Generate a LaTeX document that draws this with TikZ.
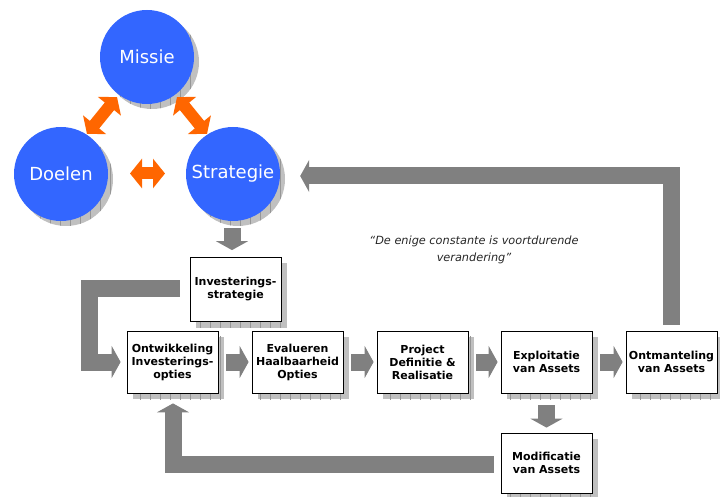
\documentclass[tikz,border=0pt]{standalone}
\usepackage{fontspec}
\setmainfont{DejaVu Sans}
\usetikzlibrary{arrows.meta,calc,backgrounds}
\definecolor{circblue}{RGB}{51,102,255}
\definecolor{arrorange}{RGB}{255,102,0}
\definecolor{shadowgray}{RGB}{192,192,192}
\definecolor{gridgray}{RGB}{150,150,150}
\definecolor{blockgray}{RGB}{128,128,128}
\newcommand\myboxshadow[1]{%
  \fill[shadowgray] ($(#1.north west)+(6,6)$) rectangle ($(#1.south east)+(6,6)$);
  \begin{scope}
    \clip ($(#1.north west)+(6,6)$) rectangle ($(#1.south east)+(6,6)$);
    \draw[gridgray,line width=0.5pt,step=10] (0,0) grid (720,497);
  \end{scope}}
\newcommand\mycircshadow[1]{%
  \fill[shadowgray] ($(#1.center)+(5,5)$) circle[radius=47pt];
  \begin{scope}
    \clip ($(#1.center)+(5,5)$) circle[radius=47pt];
    \draw[gridgray,line width=0.5pt,step=10] (0,0) grid (720,497);
  \end{scope}}
\begin{document}
\begin{tikzpicture}[x=1pt,y=-1pt,
  bubble/.style={circle,fill=circblue,minimum size=94pt,inner sep=0pt,text=white,font=\fontsize{18}{21}\selectfont},
  stepbox/.style={draw=black,line width=0.8pt,fill=white,minimum width=91pt,minimum height=62pt,inner sep=1pt,align=center,font=\bfseries\fontsize{11}{13}\selectfont},
  garrow/.style={draw=blockgray,line width=17pt,line join=miter,-{Triangle[width=32pt,length=9pt]}},
  oarrow/.style={draw=arrorange,line width=12pt,{Triangle[width=29pt,length=12pt]}-{Triangle[width=29pt,length=12pt]}}
]
\useasboundingbox (0,0) rectangle (720,497);

% circles
\node[bubble] (missie) at (147,57) {Missie};
\node[bubble] (doelen) at (61,174) {Doelen};
\node[bubble] (strategie) at (233,174) {Strategie};

% boxes
\node[stepbox,minimum height=64pt] (invest) at (235.5,289.5) {Investerings-\\strategie};
\node[stepbox] (ontw) at (172.5,362) {Ontwikkeling\\Investerings-\\opties};
\node[stepbox] (eval) at (297.5,362) {Evalueren\\Haalbaarheid\\Opties};
\node[stepbox] (proj) at (422.5,362) {Project\\Definitie \&\\Realisatie};
\node[stepbox] (expl) at (546.5,362) {Exploitatie\\van Assets};
\node[stepbox] (ontm) at (671.5,362) {Ontmanteling\\van Assets};
\node[stepbox,minimum height=60pt] (modif) at (546.5,463) {Modificatie\\van Assets};

% quote
\node[font=\itshape\fontsize{11.3}{17}\selectfont,align=center,text=black!85] (quote) at (474,250)
  {“De enige constante is voortdurende\\verandering”};

% shadows
\begin{scope}[on background layer]
  \mycircshadow{missie}
  \mycircshadow{doelen}
  \mycircshadow{strategie}
  \myboxshadow{invest}
  \myboxshadow{ontw}
  \myboxshadow{eval}
  \myboxshadow{proj}
  \myboxshadow{expl}
  \myboxshadow{ontm}
  \myboxshadow{modif}
\end{scope}

% orange double arrows
\coordinate (md1) at (87,134);
\coordinate (md2) at (117,97);
\coordinate (ms1) at (177,97);
\coordinate (ms2) at (207,134);
\coordinate (ds1) at (130,173.5);
\coordinate (ds2) at (165,173.5);
\draw[oarrow] (md1) -- (md2);
\draw[oarrow] (ms1) -- (ms2);
\draw[oarrow] (ds1) -- (ds2);

% grey block arrows
\draw[garrow] ($(strategie.south)+(-1,7)$) -- ($(invest.north)+(-3.5,-7)$);
\draw[garrow] ($(ontw.east)+(8,0)$) -- ($(eval.west)+(-3,0)$);
\draw[garrow] ($(eval.east)+(8,0)$) -- ($(proj.west)+(-3,0)$);
\draw[garrow] ($(proj.east)+(8,0)$) -- ($(expl.west)+(-3,0)$);
\draw[garrow] ($(expl.east)+(8,0)$) -- ($(ontm.west)+(-3,0)$);
\draw[garrow] ($(expl.south)+(0,12)$) -- ($(modif.north)+(0,-5)$);
\draw[garrow] ($(ontm.north)+(0,-6)$) |- ($(strategie.east)+(20,2)$);
\coordinate (lcorner) at (89.5,288.5);
\draw[garrow] ($(invest.west)+(-10,-1)$) -- (lcorner) |- ($(ontw.west)+(-6,0)$);
\draw[garrow] ($(modif.west)+(-7,1)$) -| ($(ontw.south)+(0.5,10)$);
\end{tikzpicture}
\end{document}
